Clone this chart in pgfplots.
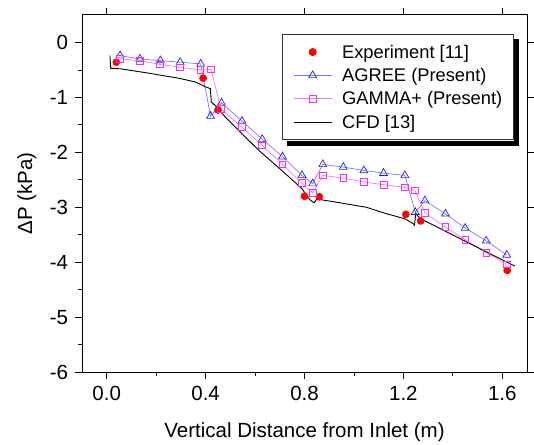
\documentclass[border=0pt]{standalone}
\usepackage{fontspec}
\setmainfont{Liberation Sans}
\usepackage{pgfplots}
\pgfplotsset{compat=1.18}
\usetikzlibrary{calc}
\definecolor{agreeline}{RGB}{120,120,255}
\definecolor{agreemark}{RGB}{30,30,255}
\definecolor{gammaline}{RGB}{255,110,255}
\definecolor{gammamark}{RGB}{240,50,240}
\begin{document}
\fontsize{20}{24}\selectfont
\begin{tikzpicture}
\useasboundingbox (0,0) rectangle (534pt,444pt);
\begin{axis}[
  at={(82pt,72pt)}, anchor=south west,
  scale only axis, width=445pt, height=357pt,
  xmin=-0.1, xmax=1.7, ymin=-6, ymax=0.5,
  xtick={0,0.4,0.8,1.2,1.6}, ytick={-6,-5,-4,-3,-2,-1,0},
  minor x tick num=1, minor y tick num=1,
  xtick pos=bottom, ytick pos=left, tick align=outside,
  major tick length=7pt, minor tick length=4pt,
  every tick/.style={black, line width=0.8pt},
  axis line style={line width=1pt},
  /pgf/number format/assume math mode=true,
  x tick label style={/pgf/number format/fixed, /pgf/number format/fixed zerofill, /pgf/number format/precision=1},
  tick label style={font=\fontsize{20.5}{24}\selectfont},
  label style={font=\fontsize{20.5}{24}\selectfont},
  xlabel={Vertical Distance from Inlet (m)},
  xlabel style={yshift=-9pt},
  ylabel={ΔP (kPa)},
  legend image code/.code={\draw[mark repeat=2,mark phase=2] plot coordinates {(0pt,0pt) (19pt,0pt) (38pt,0pt)};},
  legend style={name=lgd, at={(axis description cs:0.449,0.947)}, anchor=north west,
    draw=black!80, line width=0.8pt, fill=white,
    font=\fontsize{18.3}{22}\selectfont,
    nodes={inner ysep=2pt, inner xsep=4pt, text height=15.5pt, text depth=3pt},
    /tikz/every odd column/.append style={column sep=10pt},
    /tikz/every even column/.append style={nodes={inner xsep=0pt}},
    row sep=0.8pt, inner xsep=11pt, inner ysep=6.5pt},
  legend cell align=left,
]
\addplot[only marks, mark=*, mark size=3.6pt, color=red] coordinates {
(0.039,-0.36) (0.39,-0.65) (0.45,-1.23) (0.80,-2.80) (0.86,-2.81) (1.21,-3.13) (1.27,-3.25) (1.62,-4.15)};
\addlegendentry{Experiment [11]}
\addplot[color=agreeline, line width=0.7pt, mark=triangle, mark size=4.5pt,
  mark options={draw=agreemark, solid, line width=0.7pt}] coordinates {
(0.054,-0.24) (0.134,-0.30) (0.217,-0.33) (0.297,-0.36) (0.380,-0.39) (0.420,-1.34) (0.464,-1.10)
(0.547,-1.43) (0.629,-1.76) (0.711,-2.08) (0.790,-2.42) (0.833,-2.57) (0.874,-2.22) (0.957,-2.27)
(1.040,-2.33) (1.120,-2.38) (1.206,-2.42) (1.248,-3.09) (1.287,-2.88) (1.370,-3.12) (1.450,-3.38)
(1.535,-3.61) (1.618,-3.87)};
\addlegendentry{AGREE (Present)}
\addplot[color=gammaline, line width=0.7pt, mark=square, mark size=3.3pt,
  mark options={draw=gammamark, solid, line width=0.7pt}] coordinates {
(0.054,-0.30) (0.134,-0.33) (0.215,-0.40) (0.296,-0.45) (0.378,-0.50) (0.422,-0.49) (0.462,-1.21)
(0.546,-1.54) (0.628,-1.87) (0.711,-2.22) (0.790,-2.56) (0.833,-2.74) (0.874,-2.42) (0.957,-2.47)
(1.040,-2.54) (1.120,-2.59) (1.206,-2.64) (1.246,-2.69) (1.287,-3.10) (1.370,-3.36) (1.450,-3.59)
(1.535,-3.83) (1.618,-4.04)};
\addlegendentry{GAMMA+ (Present)}
\addplot[color=black, line width=0.9pt, no marks] coordinates {
(0.013,-0.24) (0.016,-0.47) (0.056,-0.48) (0.157,-0.55) (0.290,-0.65) (0.359,-0.72) (0.400,-0.81)
(0.419,-0.84) (0.423,-1.08) (0.446,-1.18) (0.480,-1.36) (0.614,-1.96) (0.708,-2.33) (0.789,-2.66)
(0.823,-2.87) (0.839,-2.92) (0.850,-2.85) (0.944,-2.92) (1.050,-3.00) (1.125,-3.11) (1.206,-3.21)
(1.240,-3.30) (1.245,-3.33) (1.250,-3.11) (1.266,-3.20) (1.468,-3.66) (1.650,-4.07)};
\addlegendentry{CFD [13]}
\end{axis}
\fill[black] ($(lgd.north east)+(0.4pt,-5pt)$) rectangle ($(lgd.south east)+(5.4pt,-5.4pt)$);
\fill[black] ($(lgd.south west)+(5pt,-0.4pt)$) rectangle ($(lgd.south east)+(5.4pt,-5.4pt)$);
\begin{axis}[
  at={(82pt,72pt)}, anchor=south west,
  scale only axis, width=445pt, height=357pt,
  xmin=-0.1, xmax=1.7, ymin=-6, ymax=0.5,
  xtick={0,0.4,0.8,1.2,1.6}, ytick={-6,-5,-4,-3,-2,-1,0},
  xtick pos=top, ytick pos=right, tick align=outside,
  major tick length=7pt,
  every tick/.style={black, line width=0.8pt},
  axis line style={line width=1pt},
  xticklabels={}, yticklabels={},
]
\end{axis}
\end{tikzpicture}
\end{document}
